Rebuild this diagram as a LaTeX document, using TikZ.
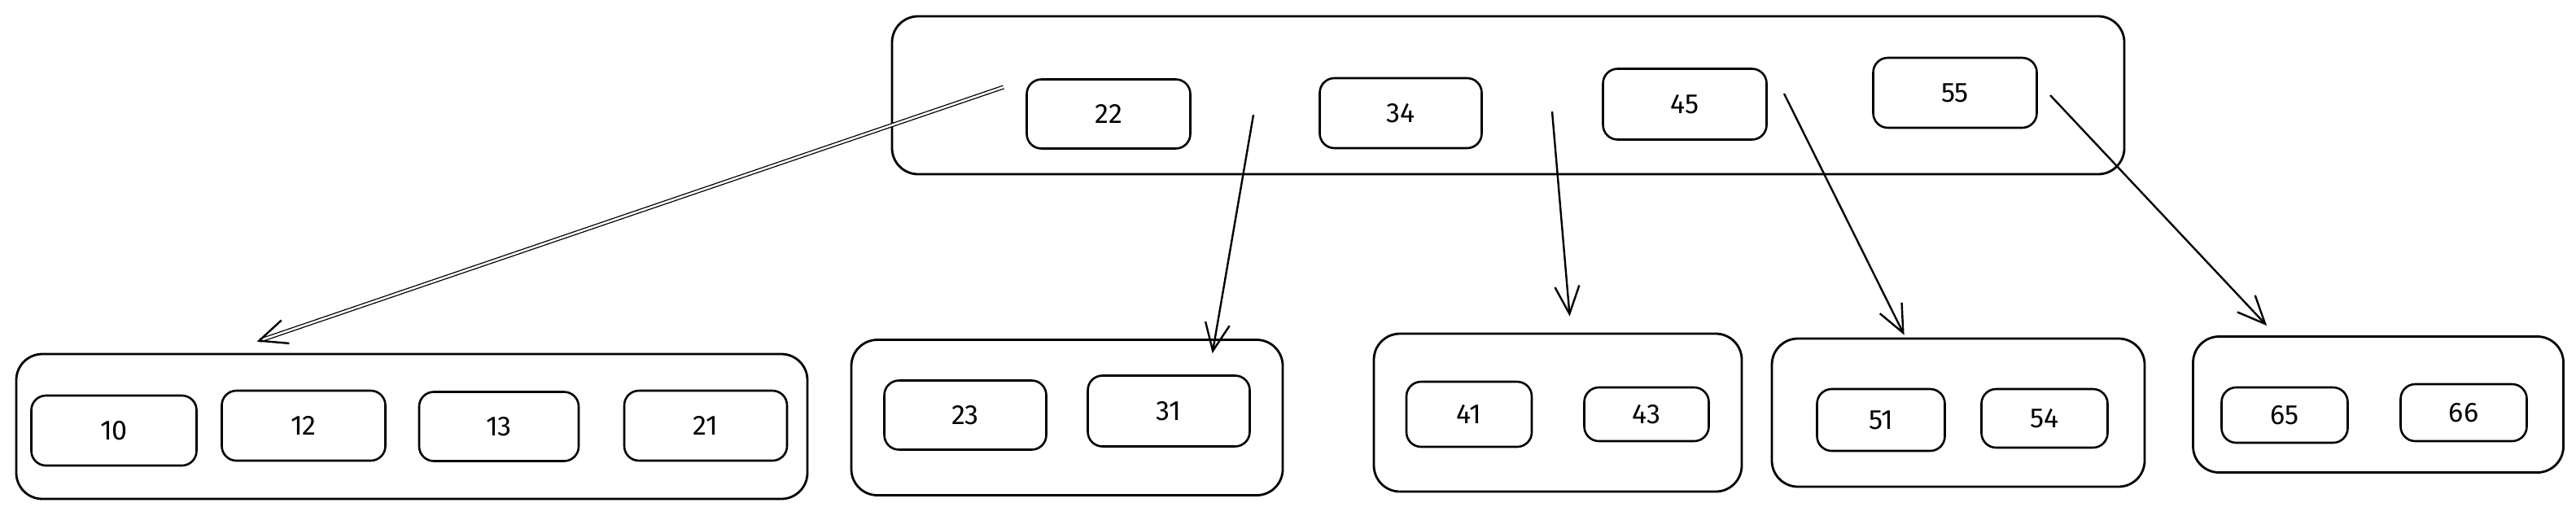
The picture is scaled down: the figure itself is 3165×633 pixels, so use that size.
\documentclass[tikz,border=0pt]{standalone}
\usepackage{fontspec}
\setmainfont{Fira Sans}
\usepackage{tikz}
\usetikzlibrary{calc}
\usetikzlibrary{arrows.meta}
\usetikzlibrary{positioning}

\tikzset{
    nodebox/.style={draw, line width=2.8pt, rounded corners=32pt, inner sep=0pt},
    keybox/.style={draw, line width=2.6pt, rounded corners=18pt, inner sep=0pt,
        font=\fontsize{34}{36}\selectfont},
    link/.style={line width=2.4pt, -{Straight Barb[length=34pt,width=30pt,line width=2.4pt]}}
}

\begin{document}
\begin{tikzpicture}[x=1pt,y=-1pt]
        \useasboundingbox (0,0) rectangle (3165,633);
        % root node
        \node[nodebox, minimum width=1514pt, minimum height=194pt] (root) at (1853,117) {};
        \node[keybox, minimum width=201pt, minimum height=85pt] (k22) at (1362,140) {22};
        \node[keybox, minimum width=199pt, minimum height=86pt] (k34) at (1721,139) {34};
        \node[keybox, minimum width=201pt, minimum height=87pt] (k45) at (2070,128) {45};
        \node[keybox, minimum width=201pt, minimum height=86pt] (k55) at (2402,114) {55};
        % leaves
        \node[nodebox, minimum width=972pt, minimum height=178pt] (leafa) at (506,524) {};
        \node[keybox, minimum width=203pt, minimum height=86pt] (k10) at (140,529) {10};
        \node[keybox, minimum width=201pt, minimum height=86pt] (k12) at (373,523) {12};
        \node[keybox, minimum width=196pt, minimum height=85pt] (k13) at (613,524) {13};
        \node[keybox, minimum width=200pt, minimum height=86pt] (k21) at (867,523) {21};
        \node[nodebox, minimum width=530pt, minimum height=191pt] (leafb) at (1311,513) {};
        \node[keybox, minimum width=199pt, minimum height=85pt] (k23) at (1186,510) {23};
        \node[keybox, minimum width=199pt, minimum height=87pt] (k31) at (1436,505) {31};
        \node[nodebox, minimum width=452pt, minimum height=194pt] (leafc) at (1914,507) {};
        \node[keybox, minimum width=154pt, minimum height=80pt] (k41) at (1805,509) {41};
        \node[keybox, minimum width=153pt, minimum height=66pt] (k43) at (2023,509) {43};
        \node[nodebox, minimum width=458pt, minimum height=182pt] (leafd) at (2406,507) {};
        \node[keybox, minimum width=157pt, minimum height=76pt] (k51) at (2311,516) {51};
        \node[keybox, minimum width=155pt, minimum height=72pt] (k54) at (2512,514) {54};
        \node[nodebox, minimum width=455pt, minimum height=167pt] (leafe) at (2922,497) {};
        \node[keybox, minimum width=155pt, minimum height=68pt] (k65) at (2807,510) {65};
        \node[keybox, minimum width=155pt, minimum height=70pt] (k66) at (3027,507) {66};
        % child pointers
        \coordinate (pa) at (1233,107);
        \coordinate (pb) at (1540,141);
        \coordinate (pc) at (1907,137);
        \coordinate (pd) at (2192,115);
        \coordinate (pe) at (2519,117);
        \draw[link, double, double distance=2.5pt, line width=1.3pt] (pa) -- ([xshift=297pt,yshift=14pt]leafa.north west);
        \draw[link] (pb) -- ([xshift=445pt,yshift=-18pt]leafb.north west);
        \draw[link] (pc) -- ([xshift=242pt,yshift=20pt]leafc.north west);
        \draw[link] (pd) -- ([xshift=164pt,yshift=3pt]leafd.north west);
        \draw[link] (pe) -- ([xshift=92pt,yshift=12pt]leafe.north west);
    \end{tikzpicture}
\end{document}
